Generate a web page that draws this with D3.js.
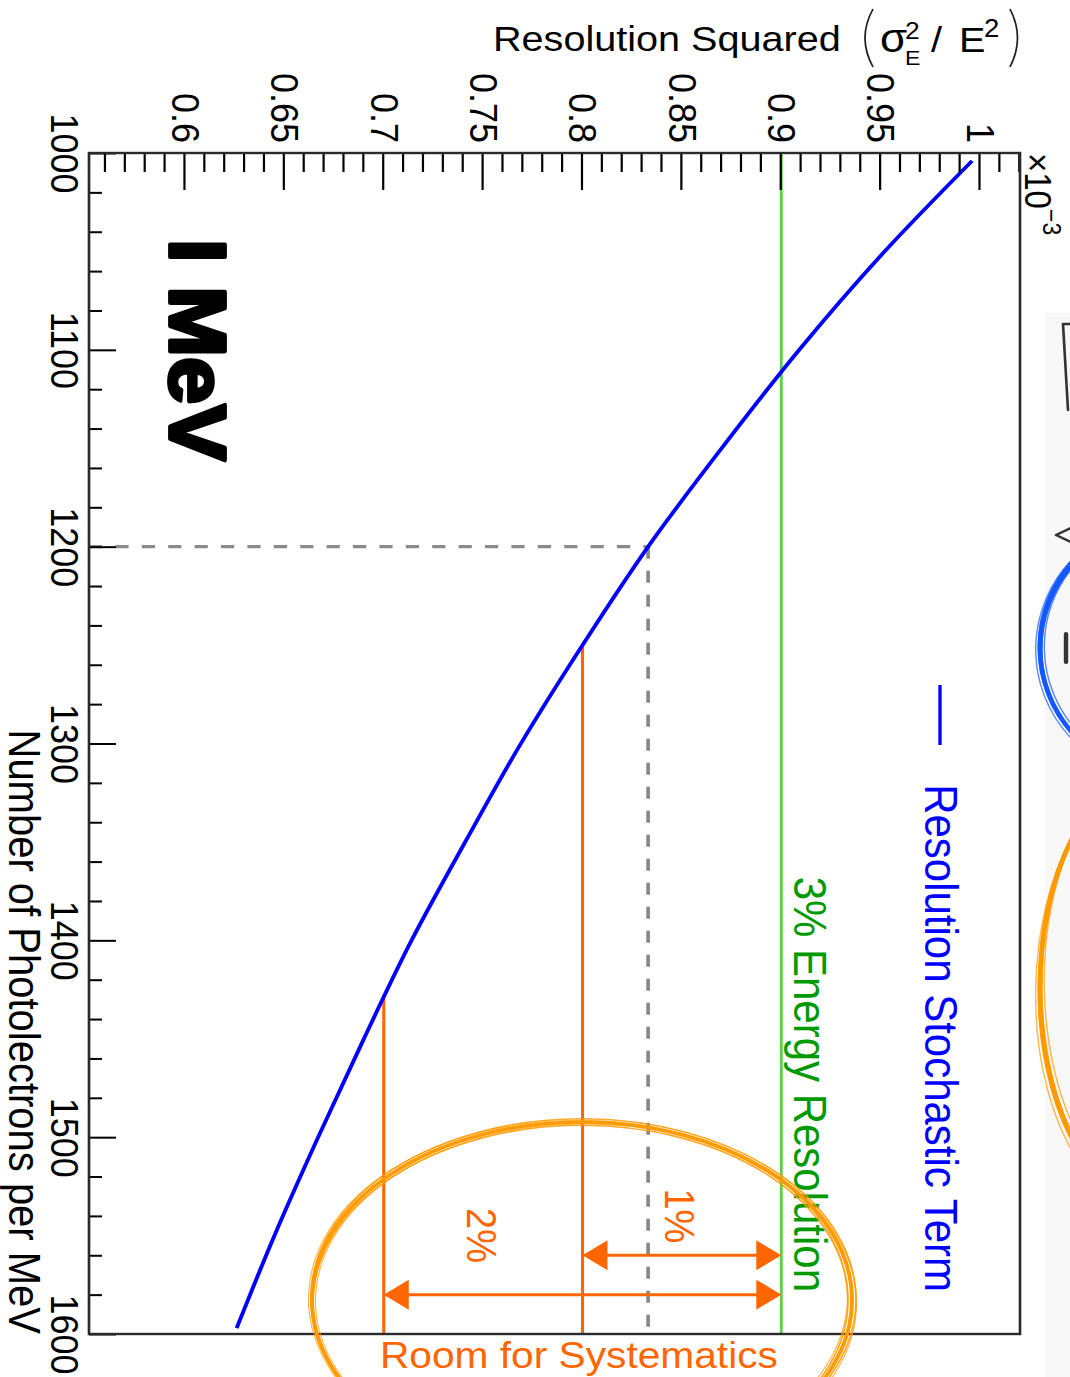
<!DOCTYPE html>
<html>
<head>
<meta charset="utf-8">
<script src="https://cdn.jsdelivr.net/npm/d3@7"></script>
<style>
  body { margin: 0; background: #fff; }
  svg { display: block; }
</style>
</head>
<body>
<svg id="chart" width="1070" height="1377"></svg>
<script>
// Photoelectron yield per MeV and the stochastic term of the resolution squared (units of 1e-3)
const photoelectrons = [1004, 1050, 1100, 1150, 1200, 1250, 1300, 1350, 1400, 1450, 1500, 1550, 1597];
const resolutionSq   = [0.996, 0.952, 0.909, 0.870, 0.833, 0.800, 0.769, 0.741, 0.714, 0.690, 0.667, 0.645, 0.626];

// Axis ranges and ticks
const xDomain = [1000, 1600];
const yDomain = [0.5517, 1.0201];
const xTicks = [1000, 1100, 1200, 1300, 1400, 1500, 1600];
const xMinorTicks = [1020, 1040, 1060, 1080, 1120, 1140, 1160, 1180, 1220, 1240, 1260, 1280,
                     1320, 1340, 1360, 1380, 1420, 1440, 1460, 1480, 1520, 1540, 1560, 1580];
const yTicks = [0.6, 0.65, 0.7, 0.75, 0.8, 0.85, 0.9, 0.95, 1];
const yMinorTicks = [0.56, 0.57, 0.58, 0.59, 0.61, 0.62, 0.63, 0.64, 0.66, 0.67, 0.68, 0.69,
                     0.71, 0.72, 0.73, 0.74, 0.76, 0.77, 0.78, 0.79, 0.81, 0.82, 0.83, 0.84,
                     0.86, 0.87, 0.88, 0.89, 0.91, 0.92, 0.93, 0.94, 0.96, 0.97, 0.98, 0.99, 1.01, 1.02];

// Reference levels
const targetLevel = 0.9;                       // 3% energy resolution
const workingPoint = { n: 1200, v: 0.833 };    // chosen light yield
const budgetLevels = [ { v: 0.8, n: 1250 }, { v: 0.7, n: 1429 } ];
const budgetArrows = [
  { n: 1560, lo: 0.8, hi: 0.9, label: "1%", labelN: 1540, labelV: 0.849 },
  { n: 1580, lo: 0.7, hi: 0.9, label: "2%", labelN: 1550, labelV: 0.7494 }
];

const FONT = "'Liberation Sans', Arial, Helvetica, sans-serif";
const BLUE = "#0000ff", GREEN_LINE = "#5fcf4a", GREEN_TEXT = "#009a00", ORANGE = "#ff6600", MARKER = "#ff9a00";

const SX = 1.1;                 // the whole sheet is drawn slightly wide
const vx = px => px / SX;       // page x -> drawing x

const svg = d3.select("#chart");
const root = svg.append("g").attr("transform", `scale(${SX},1)`);

// faint panel at the right margin
root.append("rect").attr("x", vx(1045)).attr("y", 313).attr("width", vx(40)).attr("height", 1100).attr("fill", "#f8f8f8");

// plot frame: the graph is turned a quarter turn clockwise
const R = vx(1020), T = 153;
const W = 1334 - 153;
const H = R - vx(89);
const plot = root.append("g").attr("transform", `translate(${R},${T}) rotate(90)`);

const x = d3.scaleLinear().domain(xDomain).range([0, W]);
const y = d3.scaleLinear().domain(yDomain).range([H, 0]);

const curveData = photoelectrons.map((n, i) => ({ n, v: resolutionSq[i] }));

// 3% resolution level
plot.append("line")
  .attr("x1", x(xDomain[0])).attr("x2", x(xDomain[1]))
  .attr("y1", y(targetLevel)).attr("y2", y(targetLevel))
  .attr("stroke", GREEN_LINE).attr("stroke-width", 2.6);

// working point guides
const dash = plot.append("g").attr("stroke", "#8a8a8a").attr("stroke-width", 3.4).attr("stroke-dasharray", "12,12");
dash.append("line")
  .attr("x1", x(workingPoint.n)).attr("x2", x(workingPoint.n))
  .attr("y1", y(yDomain[0])).attr("y2", y(workingPoint.v));
dash.append("line")
  .attr("x1", x(workingPoint.n)).attr("x2", x(xDomain[1]))
  .attr("y1", y(workingPoint.v)).attr("y2", y(workingPoint.v));

// systematic budget levels
plot.append("g").selectAll("line").data(budgetLevels).join("line")
  .attr("x1", d => x(d.n)).attr("x2", x(xDomain[1]))
  .attr("y1", d => y(d.v)).attr("y2", d => y(d.v))
  .attr("stroke", ORANGE).attr("stroke-width", 2.8);

// stochastic term
plot.append("path").datum(curveData)
  .attr("d", d3.line().x(d => x(d.n)).y(d => y(d.v)).curve(d3.curveMonotoneX))
  .attr("fill", "none").attr("stroke", BLUE).attr("stroke-width", 3.6);

// double arrows between levels
const headL = vx(25), headW = 15;
const arrows = plot.append("g");
budgetArrows.forEach(a => {
  const u = x(a.n), vTop = y(a.hi), vBot = y(a.lo);
  arrows.append("line").attr("x1", u).attr("x2", u).attr("y1", vTop + 2).attr("y2", vBot - 2)
    .attr("stroke", ORANGE).attr("stroke-width", 3);
  arrows.append("path")
    .attr("d", `M${u},${vTop} L${u - headW},${vTop + headL} L${u + headW},${vTop + headL} Z`)
    .attr("fill", ORANGE);
  arrows.append("path")
    .attr("d", `M${u},${vBot} L${u - headW},${vBot - headL} L${u + headW},${vBot - headL} Z`)
    .attr("fill", ORANGE);
  arrows.append("text")
    .attr("x", x(a.labelN)).attr("y", y(a.labelV)).attr("dy", "0.36em")
    .attr("text-anchor", "middle").attr("font-family", FONT).attr("font-size", 38)
    .attr("fill", ORANGE).text(a.label);
});

// axes (ticks point into the frame)
function styleAxis(g) {
  g.select(".domain").remove();
  g.attr("font-family", FONT).attr("font-size", 36);
  g.selectAll("line").attr("stroke", "#000").attr("stroke-width", 2);
  g.selectAll("text").attr("fill", "#000");
}
plot.append("g").attr("transform", `translate(0,${H})`)
  .call(d3.axisBottom(x).tickValues(xMinorTicks).tickSize(-vx(13)).tickFormat(""))
  .call(styleAxis);
plot.append("g").attr("transform", `translate(0,${H})`)
  .call(d3.axisBottom(x).tickValues(xTicks).tickSize(-vx(27)).tickPadding(9).tickFormat(d3.format("d")))
  .call(styleAxis);
plot.append("g")
  .call(d3.axisLeft(y).tickValues(yMinorTicks).tickSize(-19).tickFormat(""))
  .call(styleAxis);
plot.append("g")
  .call(d3.axisLeft(y).tickValues(yTicks).tickSize(-37).tickPadding(10).tickFormat(d => String(d)))
  .call(styleAxis);

// exponent of the value axis
const expo = plot.append("text").attr("x", 0).attr("y", -4.5)
  .attr("font-family", FONT).attr("font-size", 33).attr("fill", "#000");
expo.append("tspan").text("×10");
expo.append("tspan").attr("dy", -16).attr("font-size", 23).text("−3");

// frame
plot.append("rect").attr("x", 0).attr("y", 0).attr("width", W).attr("height", H)
  .attr("fill", "none").attr("stroke", "#2a2a2a").attr("stroke-width", 2.4);

// axis title along the photoelectron axis
plot.append("text")
  .attr("x", W).attr("y", H + 73)
  .attr("text-anchor", "end").attr("font-family", FONT).attr("font-size", 40).attr("fill", "#000")
  .text("Number of Photolectrons per MeV");

// legend
plot.append("line").attr("x1", 532).attr("x2", 592).attr("y1", R - vx(940)).attr("y2", R - vx(940))
  .attr("stroke", BLUE).attr("stroke-width", 3);
plot.append("text")
  .attr("x", 1139).attr("y", R - vx(925))
  .attr("text-anchor", "end").attr("font-family", FONT).attr("font-size", 42).attr("fill", BLUE)
  .text("Resolution Stochastic Term");
plot.append("text")
  .attr("x", 1139).attr("y", y(targetLevel) - 12)
  .attr("text-anchor", "end").attr("font-family", FONT).attr("font-size", 42).attr("fill", GREEN_TEXT)
  .text("3% Energy Resolution");

// energy tag
plot.append("text")
  .attr("x", 86).attr("y", R - vx(170))
  .attr("font-family", FONT).attr("font-weight", "bold").attr("font-size", 72)
  .attr("textLength", 222).attr("lengthAdjust", "spacingAndGlyphs")
  .attr("fill", "#000").attr("stroke", "#000").attr("stroke-width", 3.5).attr("stroke-linejoin", "round")
  .text("I MeV");

// value axis title, upright at the top
const title = root.append("g").attr("font-family", FONT).attr("fill", "#000");
title.append("text").attr("x", vx(493)).attr("y", 51).attr("font-size", 36).text("Resolution Squared");
title.append("path").attr("d", `M${vx(873)},9 Q${vx(857)},38 ${vx(873)},67`)
  .attr("fill", "none").attr("stroke", "#222").attr("stroke-width", 1.6);
title.append("text").attr("x", vx(880)).attr("y", 52).attr("font-size", 40).text("σ");
title.append("text").attr("x", vx(905)).attr("y", 39).attr("font-size", 24).text("2");
title.append("text").attr("x", vx(905)).attr("y", 65).attr("font-size", 21).text("E");
title.append("text").attr("x", vx(931)).attr("y", 52).attr("font-size", 36).text("/");
title.append("text").attr("x", vx(959)).attr("y", 52).attr("font-size", 36).text("E");
title.append("text").attr("x", vx(984)).attr("y", 37).attr("font-size", 25).text("2");
title.append("path").attr("d", `M${vx(1010)},9 Q${vx(1025)},38 ${vx(1010)},67`)
  .attr("fill", "none").attr("stroke", "#222").attr("stroke-width", 1.6);

// hand-drawn marker rings
const passes = [
  { dx: 0,    dy: 0,    dr: 0,    rot: 0,    w: 3.6, o: 1 },
  { dx: 1.5,  dy: -1.5, dr: 2.5,  rot: 0.6,  w: 1.6, o: 0.85 },
  { dx: -1.5, dy: 1.5,  dr: -2.5, rot: -0.5, w: 1.6, o: 0.85 },
  { dx: 0.5,  dy: 1,    dr: 4,    rot: 1.1,  w: 1.1, o: 0.7 },
  { dx: -0.5, dy: -1,   dr: -4,   rot: -1,   w: 1.1, o: 0.7 }
];
function ring(cx, cy, rx, ry, color, scale) {
  const g = root.append("g").attr("fill", "none").attr("stroke", color);
  passes.forEach(p => {
    g.append("ellipse")
      .attr("cx", vx(cx + p.dx)).attr("cy", cy + p.dy)
      .attr("rx", vx(rx + p.dr * scale)).attr("ry", ry + p.dr * scale * 0.7)
      .attr("transform", `rotate(${p.rot} ${vx(cx)} ${cy})`)
      .attr("stroke-width", p.w * scale).attr("stroke-opacity", p.o);
  });
}
ring(582, 1300, 270, 178, MARKER, 1);
ring(1167, 648, 127, 127, "#1458ff", 1.2);
ring(1160, 988, 120, 220, MARKER, 1.2);

// partial sketch marks at the right margin
const marks = root.append("g").attr("fill", "none").attr("stroke", "#333").attr("stroke-width", 2.4)
  .attr("stroke-linecap", "round").attr("stroke-linejoin", "round");
marks.append("path").attr("d", `M${vx(1071)},324 L${vx(1063)},324 L${vx(1068)},410`);
marks.append("path").attr("d", `M${vx(1071)},528 L${vx(1056)},535 L${vx(1071)},542`);
marks.append("path").attr("d", `M${vx(1066)},634 L${vx(1066)},662`).attr("stroke-width", 4);

// note under the budget
root.append("text")
  .attr("x", vx(380)).attr("y", 1368)
  .attr("font-family", FONT).attr("font-size", 37).attr("fill", ORANGE)
  .text("Room for Systematics");
</script>
</body>
</html>
